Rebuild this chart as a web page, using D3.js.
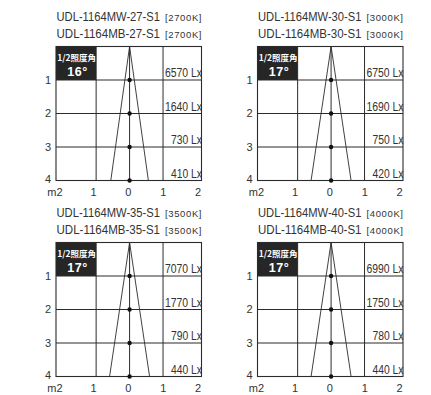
<!DOCTYPE html>
<html>
<head>
<meta charset="utf-8">
<script src="https://cdn.jsdelivr.net/npm/d3@7"></script>
<style>
body { margin: 0; background: #fff; }
text { font-family: "Liberation Sans", Arial, sans-serif; fill: #333; }
.box text { fill: #fff; }
</style>
</head>
<body>
<script>
// chart values
var models = ["27", "30", "35", "40"];
var kelvins = ["2700K", "3000K", "3500K", "4000K"];
var halfAngles = [16, 17, 17, 17];
var luxValues = [
	[6570, 1640, 730, 410],
	[6750, 1690, 750, 420],
	[7070, 1770, 790, 440],
	[6990, 1750, 780, 440]
];
var distances = [1, 2, 3, 4];
var xTickValues = [-2, -1, 0, 1, 2];
var xTickLabels = ["m2", "1", "0", "1", "2"];

var w = 431, h = 395;
var svg = d3.select("body").append("svg").attr("width", w).attr("height", h);

// grid reaches slightly past +-2 m on each side
var x = d3.scaleLinear().domain([-2.2, 2.15]).range([0, 145.5]);
var y = d3.scaleLinear().domain([0, 4]).range([0, 134]);
// tick labels are spread a little wider than the grid
var xl = d3.scaleLinear().domain([-2, 2]).range([x(0) - 71, x(0) + 68.5]);

var offX = [56, 257.5], offY = [46.5, 242.5];
var ink = "#2b2b2b";

models.forEach(function(m, i) {
	var g = svg.append("g")
		.attr("transform", "translate(" + offX[i % 2] + "," + offY[Math.floor(i / 2)] + ")");
	var x0 = x.range()[0], x1 = x.range()[1];

	// titles
	["MW", "MB"].forEach(function(t, j) {
		g.append("text").attr("x", x0 + 0.5).attr("y", -26 + j * 17)
			.attr("textLength", 103.5).attr("lengthAdjust", "spacingAndGlyphs")
			.style("font-size", "12px")
			.text("UDL-1164" + t + "-" + m + "-S1");
		g.append("text").attr("x", x1).attr("y", -26 + j * 17)
			.attr("text-anchor", "end")
			.attr("textLength", 36.5).attr("lengthAdjust", "spacing")
			.style("font-size", "9.5px")
			.text("[" + kelvins[i] + "]");
	});

	// box label
	var box = g.append("g").attr("class", "box");
	box.append("rect").attr("x", x0).attr("y", 0)
		.attr("width", x(-1) - x0).attr("height", y(1))
		.attr("fill", "#262626");
	box.append("text").attr("x", (x0 + x(-1)) / 2 + 0.5).attr("y", 14)
		.attr("text-anchor", "middle")
		.style("font-size", "8.5px").style("font-family", "'Noto Sans CJK JP', sans-serif")
		.style("font-weight", "bold")
		.text("1/2照度角");
	box.append("text").attr("x", (x0 + x(-1)) / 2 + 1.5).attr("y", 29.5)
		.attr("text-anchor", "middle")
		.style("font-size", "12.5px").style("font-weight", "bold").style("letter-spacing", "0.5px")
		.text(halfAngles[i] + "°");

	// grid
	g.selectAll(".hl").data(distances.slice(0, 3)).enter().append("line")
		.attr("x1", x0).attr("x2", x1)
		.attr("y1", function(d) { return y(d); }).attr("y2", function(d) { return y(d); })
		.attr("stroke", ink).attr("stroke-width", 1);
	g.selectAll(".vl").data([-1, 0, 1]).enter().append("line")
		.attr("x1", function(d) { return x(d); }).attr("x2", function(d) { return x(d); })
		.attr("y1", 0).attr("y2", y(4))
		.attr("stroke", ink).attr("stroke-width", 1);
	g.append("rect").attr("x", x0).attr("y", 0)
		.attr("width", x1 - x0).attr("height", y(4))
		.attr("fill", "none").attr("stroke", ink).attr("stroke-width", 1.1);

	// beam
	var spread = 4 * Math.tan(halfAngles[i] / 2 * Math.PI / 180);
	g.append("path")
		.attr("d", d3.line()([[x(-spread), y(4)], [x(0), y(0)], [x(spread), y(4)]]))
		.attr("fill", "none").attr("stroke", ink).attr("stroke-width", 0.9);
	g.selectAll(".dot").data(distances).enter().append("circle")
		.attr("cx", x(0)).attr("cy", function(d) { return y(d); })
		.attr("r", 2.2).attr("fill", "#111");

	// lux values, condensed
	g.selectAll(".lx").data(luxValues[i]).enter().append("text")
		.attr("x", x1 + 0.5).attr("y", function(d, k) { return y(distances[k]) - 3; })
		.attr("text-anchor", "end")
		.attr("textLength", function(d) { return 13 + 6 * String(d).length; })
		.attr("lengthAdjust", "spacingAndGlyphs")
		.style("font-size", "12.5px")
		.text(function(d) { return d + " Lx"; });

	// y labels
	g.selectAll(".yl").data(distances).enter().append("text")
		.attr("x", x0 - 5).attr("y", function(d) { return y(d); })
		.attr("dy", function(d) { return d === 4 ? "0.2em" : "0.36em"; })
		.attr("text-anchor", "end")
		.style("font-size", "11px")
		.text(function(d) { return d; });

	// x labels
	g.selectAll(".xt").data(xTickValues).enter().append("text")
		.attr("x", function(d) { return d === -2 ? xl(d) + 4 : xl(d); })
		.attr("y", y(4) + 15)
		.attr("text-anchor", function(d) { return d === -2 ? "end" : "middle"; })
		.style("font-size", "11px")
		.text(function(d, k) { return xTickLabels[k]; });
});
</script>
</body>
</html>
